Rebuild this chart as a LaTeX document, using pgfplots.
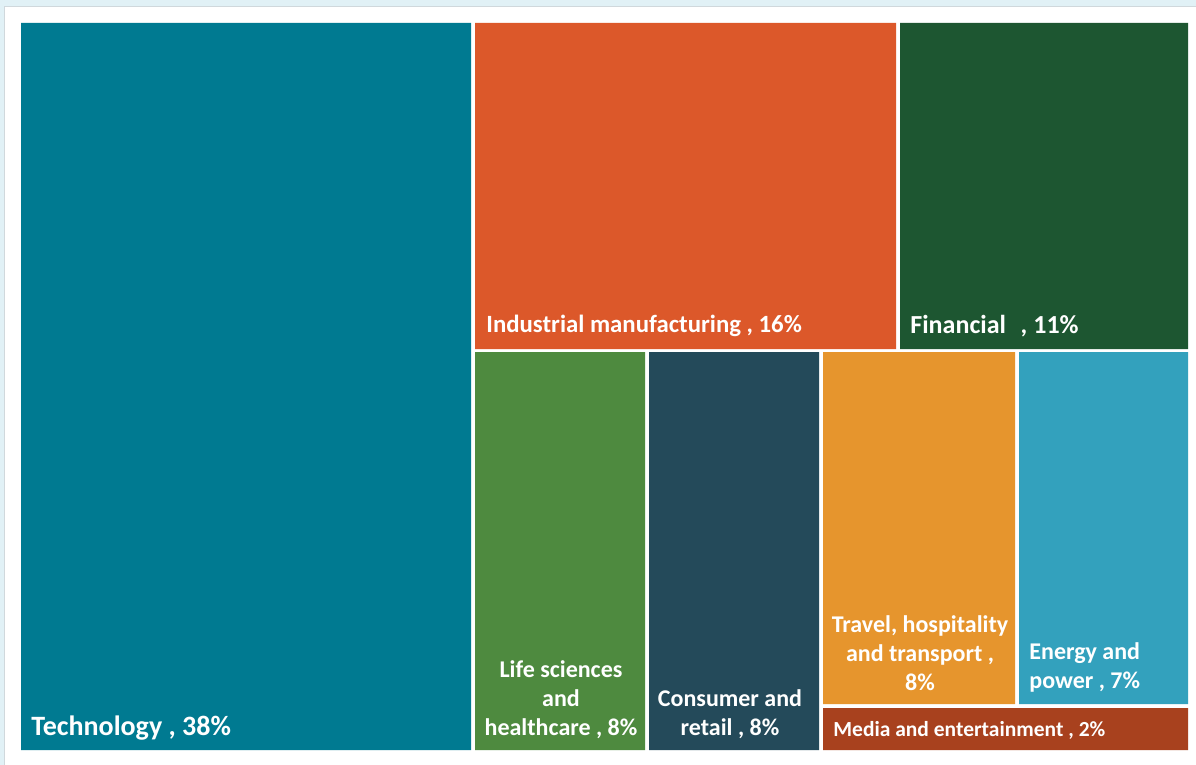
\documentclass[border=0pt]{standalone}
\usepackage{pgfplots}
\pgfplotsset{compat=1.18}
\usepackage{fontspec}
\setmainfont{Carlito}
\definecolor{cTech}{HTML}{007A91}
\definecolor{cInd}{HTML}{DC582A}
\definecolor{cFin}{HTML}{1D5631}
\definecolor{cLife}{HTML}{4E8A3F}
\definecolor{cCons}{HTML}{244A5A}
\definecolor{cTrav}{HTML}{E6952D}
\definecolor{cEner}{HTML}{33A1BD}
\definecolor{cMedia}{HTML}{A8411E}
\definecolor{cFrame}{HTML}{E1F1F6}
\definecolor{cBorder}{HTML}{D0D8DC}
\begin{document}
\begin{tikzpicture}
\begin{axis}[
  width=598pt, height=382.5pt, scale only axis,
  xmin=0, xmax=1196, ymin=0, ymax=765, y dir=reverse,
  axis lines=none, clip=true,
]
% frame
\addplot[fill=cFrame, draw=none] coordinates {(0,0) (1196,0) (1196,765) (0,765) (0,0)};
\addplot[fill=white, draw=cBorder, line width=0.6pt] coordinates {(4.5,6.5) (1200,6.5) (1200,770) (4.5,770) (4.5,6.5)};
% tiles
\addplot[fill=cTech, draw=none] coordinates {(21,23) (471,23) (471,750) (21,750) (21,23)};
\addplot[fill=cInd, draw=none] coordinates {(475,23) (896,23) (896,349) (475,349) (475,23)};
\addplot[fill=cFin, draw=none] coordinates {(900,23) (1188,23) (1188,349) (900,349) (900,23)};
\addplot[fill=cLife, draw=none] coordinates {(475,352) (645,352) (645,750) (475,750) (475,352)};
\addplot[fill=cCons, draw=none] coordinates {(649,352) (819,352) (819,750) (649,750) (649,352)};
\addplot[fill=cTrav, draw=none] coordinates {(823,352) (1015,352) (1015,704) (823,704) (823,352)};
\addplot[fill=cEner, draw=none] coordinates {(1019,352) (1188,352) (1188,704) (1019,704) (1019,352)};
\addplot[fill=cMedia, draw=none] coordinates {(823,708) (1188,708) (1188,750) (823,750) (823,708)};
% labels
\node[anchor=west, text=white, font=\fontsize{14}{16}\selectfont\bfseries, inner sep=0pt] at (axis cs:31,728) {Technology , 38\%};
\node[anchor=west, text=white, font=\fontsize{12.4}{14}\selectfont\bfseries, inner sep=0pt] at (axis cs:486,326) {Industrial manufacturing , 16\%};
\node[anchor=west, text=white, font=\fontsize{13}{14}\selectfont\bfseries, inner sep=0pt] at (axis cs:910,326) {Financial\ \hspace{1.5pt}\ , 11\%};
\node[text=white, font=\fontsize{12}{14.5}\selectfont\bfseries, inner sep=0pt, align=center] at (axis cs:561,700) {Life sciences\\and\\healthcare , 8\%};
\node[text=white, font=\fontsize{12}{14.5}\selectfont\bfseries, inner sep=0pt, align=center] at (axis cs:730,714.5) {Consumer and\\retail , 8\%};
\node[text=white, font=\fontsize{12}{14.5}\selectfont\bfseries, inner sep=0pt, align=center] at (axis cs:920,653) {Travel, hospitality\\and transport ,\\8\%};
\node[anchor=west, text=white, font=\fontsize{12}{14.5}\selectfont\bfseries, inner sep=0pt, align=left] at (axis cs:1029,667.5) {Energy and\\power , 7\%};
\node[anchor=west, text=white, font=\fontsize{10.75}{12}\selectfont\bfseries, inner sep=0pt] at (axis cs:833,730) {Media and entertainment , 2\%};
\end{axis}
\end{tikzpicture}
\end{document}
